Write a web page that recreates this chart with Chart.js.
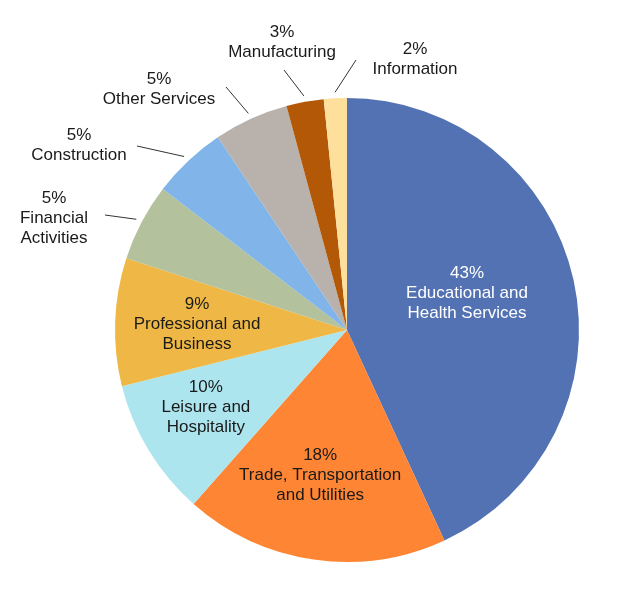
<!DOCTYPE html>
<html>
<head>
<meta charset="utf-8">
<script src="https://cdn.jsdelivr.net/npm/chart.js@4"></script>
<style>
  html, body { margin: 0; padding: 0; background: #ffffff; }
  #wrap { width: 617px; height: 600px; }
</style>
</head>
<body>
<div id="wrap"><canvas id="c" width="617" height="600"></canvas></div>
<script>
// ---- data ----
const categories = [
  ['Educational and', 'Health Services'],
  ['Trade, Transportation', 'and Utilities'],
  ['Leisure and', 'Hospitality'],
  ['Professional and', 'Business'],
  ['Financial', 'Activities'],
  ['Construction'],
  ['Other Services'],
  ['Manufacturing'],
  ['Information']
];
const shares = [43.1, 18.4, 9.6, 8.9, 5.4, 5.2, 5.2, 2.6, 1.6];
const colors = ['#5372B3', '#FE8533', '#ADE5EF', '#EFB846', '#B3C29D', '#81B4E8', '#B9B1AC', '#B35806', '#FFDF9C'];
const textColors = ['#ffffff', '#1a1a1a', '#1a1a1a', '#1a1a1a', '#1a1a1a', '#1a1a1a', '#1a1a1a', '#1a1a1a', '#1a1a1a'];

// ---- label layout (not data) ----
// inside labels: [angle offset in degrees from slice mid, radius fraction]
const insideLayout = { 0: [-4.6, 0.541], 1: [2.2, 0.636], 2: [2.7, 0.693], 3: [0.3, 0.647] };
// outside labels: [leader end dx, dy, text centre dx, dy] relative to pie centre (px at R=232)
const outsideLayout = {
  4: [-242, -115, -293, -112],
  5: [-210, -184, -268, -185],
  6: [-121, -243, -188, -241],
  7: [-63, -260, -65, -287.5],
  8: [9, -270, 68, -270.5]
};

const FONT = '17px "Liberation Sans", Arial, sans-serif';
const LINE_H = 20;

const labelPlugin = {
  id: 'sliceLabels',
  afterDatasetsDraw(chart) {
    const ctx = chart.ctx;
    const meta = chart.getDatasetMeta(0);
    const data = chart.data.datasets[0].data;
    const total = data.reduce((a, b) => a + b, 0);
    ctx.save();
    ctx.font = FONT;
    ctx.textAlign = 'center';
    ctx.textBaseline = 'middle';
    meta.data.forEach((arc, i) => {
      const p = arc.getProps(['x', 'y', 'startAngle', 'endAngle', 'outerRadius'], true);
      const R = p.outerRadius;
      const k = R / 232;
      const mid = (p.startAngle + p.endAngle) / 2;
      const lines = [Math.round(data[i] / total * 100) + '%'].concat(chart.data.labels[i]);
      let cx, cy;
      if (insideLayout[i]) {
        const [off, frac] = insideLayout[i];
        const a = mid + off * Math.PI / 180;
        cx = p.x + Math.cos(a) * R * frac;
        cy = p.y + Math.sin(a) * R * frac;
      } else {
        const [ex, ey, tx, ty] = outsideLayout[i];
        const sx = p.x + Math.cos(mid) * (R + 6);
        const sy = p.y + Math.sin(mid) * (R + 6);
        ctx.strokeStyle = '#333333';
        ctx.lineWidth = 1;
        ctx.beginPath();
        ctx.moveTo(sx, sy);
        ctx.lineTo(p.x + ex * k, p.y + ey * k);
        ctx.stroke();
        cx = p.x + tx * k;
        cy = p.y + ty * k;
      }
      ctx.fillStyle = textColors[i];
      const top = cy - (lines.length - 1) * LINE_H / 2;
      lines.forEach((t, j) => ctx.fillText(t, cx, top + j * LINE_H));
    });
    ctx.restore();
  }
};

new Chart(document.getElementById('c'), {
  type: 'pie',
  data: {
    labels: categories,
    datasets: [{
      data: shares,
      backgroundColor: colors,
      borderWidth: 0,
      hoverOffset: 0
    }]
  },
  options: {
    responsive: false,
    animation: false,
    layout: { padding: { left: 115, right: 38, top: 98, bottom: 38 } },
    plugins: { legend: { display: false }, tooltip: { enabled: false } }
  },
  plugins: [labelPlugin]
});
</script>
</body>
</html>
